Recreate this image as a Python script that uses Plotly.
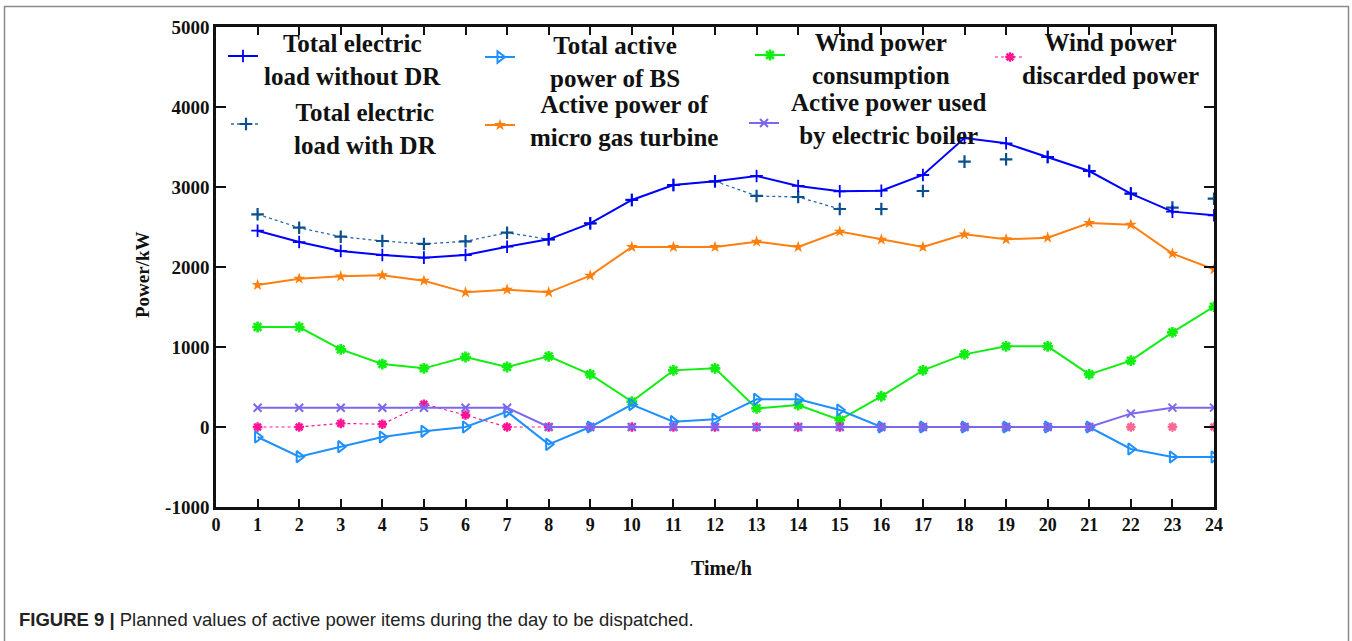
import plotly.graph_objects as go

# ---- data (kW, hourly schedule) ----
hours = list(range(1, 25))

load_without_dr = [2454, 2312, 2200, 2150, 2117, 2150, 2254, 2346, 2546, 2838, 3025, 3071,
                   3138, 3013, 2946, 2954, 3150, 3612, 3546, 3375, 3200, 2917, 2692, 2646]
load_with_dr = [2659, 2491, 2379, 2325, 2288, 2321, 2429, 2346, 2546, 2838, 3025, 3071,
                2888, 2875, 2725, 2725, 2950, 3317, 3346, 3375, 3200, 2917, 2742, 2854]
bs_power = [-125, -371, -246, -125, -54, 0, 192, -217, 0, 280, 67, 96,
            346, 346, 213, 0, 0, 0, 0, 0, 0, -275, -375, -375]
mt_power = [1775, 1854, 1883, 1896, 1829, 1683, 1717, 1683, 1892, 2250, 2250, 2250,
            2317, 2250, 2442, 2342, 2250, 2408, 2346, 2367, 2550, 2529, 2167, 1971]
wind_used = [1250, 1250, 971, 787, 733, 875, 750, 884, 658, 317, 708, 733,
             233, 275, 88, 383, 708, 908, 1008, 1008, 658, 829, 1183, 1504]
wind_cut = [0, 0, 45, 35, 285, 150, 0, 0, 0, 0, 0, 0,
            0, 0, 0, 0, 0, 0, 0, 0, 0, 0, 0, 0]
boiler = [240, 240, 240, 240, 240, 240, 240, 0, 0, 0, 0, 0,
          0, 0, 0, 0, 0, 0, 0, 0, 0, 167, 242, 242]

# hours where the dotted connecting line stops and only markers remain
dr_line_end = 15
cut_line_end = 21

series_labels = {
    "nodr": ["Total electric", "load without DR"],
    "dr": ["Total electric", "load with DR"],
    "bs": ["Total active", "power of BS"],
    "mt": ["Active power of", "micro gas turbine"],
    "wind": ["Wind power", "consumption"],
    "boiler": ["Active power used", "by electric boiler"],
    "cut": ["Wind power", "discarded power"],
}

x_ticks = list(range(0, 25))
y_ticks = [-1000, 0, 1000, 2000, 3000, 4000, 5000]
y_tick_text = ["-1000", "0", "1000", "2000", "3000", "4000", "5000"]

# ---- page geometry (pixels) ----
W, H = 1352, 641
PL, PR, PT, PB = 216, 1214, 27, 507


def px(x):
    return (x - PL) / (PR - PL)


def py(y):
    return (PB - y) / (PB - PT)


SERIF = "Liberation Serif"
SANS = "Liberation Sans"

fig = go.Figure()


def hover(key):
    # swatch-only legend entries; the series name lives in the hover box
    return "%{x} h: %{y} kW<extra>" + " ".join(series_labels[key]) + "</extra>"


cross_dr = dict(symbol="cross-thin", size=9, line=dict(color="#0b4f8c", width=2.2))
star_cut = dict(symbol="asterisk-open", size=8, line=dict(color="#ff1493", width=2.4))

# total load with demand response (dotted, then markers only)
fig.add_trace(go.Scatter(
    x=hours[:dr_line_end], y=load_with_dr[:dr_line_end], mode="lines+markers",
    name="", legend="legend2", hovertemplate=hover("dr"),
    line=dict(color="#2b6aa8", width=1.3, dash="dot"), marker=cross_dr,
))
fig.add_trace(go.Scatter(
    x=hours[dr_line_end:], y=load_with_dr[dr_line_end:], mode="markers",
    name="", legend="legend2", showlegend=False, hovertemplate=hover("dr"),
    marker=cross_dr,
))
# total load without demand response
fig.add_trace(go.Scatter(
    x=hours, y=load_without_dr, mode="lines+markers",
    name="", legend="legend", hovertemplate=hover("nodr"),
    line=dict(color="#0000ff", width=2),
    marker=dict(symbol="cross-thin", size=9, line=dict(color="#0000ff", width=1.8)),
))
# micro gas turbine
fig.add_trace(go.Scatter(
    x=hours, y=mt_power, mode="lines+markers",
    name="", legend="legend4", hovertemplate=hover("mt"),
    line=dict(color="#ff7f0e", width=2),
    marker=dict(symbol="star", size=9, color="#ff7f0e"),
))
# wind power consumed
fig.add_trace(go.Scatter(
    x=hours, y=wind_used, mode="lines+markers",
    name="", legend="legend5", hovertemplate=hover("wind"),
    line=dict(color="#11ee11", width=2),
    marker=dict(symbol="asterisk-open", size=9, line=dict(color="#11ee11", width=2.6)),
))
# wind power discarded (dotted, then markers only)
fig.add_trace(go.Scatter(
    x=hours[:cut_line_end], y=wind_cut[:cut_line_end], mode="lines+markers",
    name="", legend="legend7", hovertemplate=hover("cut"),
    line=dict(color="#ff1493", width=1.2, dash="dot"), marker=star_cut,
))
fig.add_trace(go.Scatter(
    x=hours[cut_line_end:], y=wind_cut[cut_line_end:], mode="markers",
    name="", legend="legend7", showlegend=False, hovertemplate=hover("cut"),
    marker=star_cut,
))
# battery storage
fig.add_trace(go.Scatter(
    x=hours, y=bs_power, mode="lines+markers",
    name="", legend="legend3", hovertemplate=hover("bs"),
    line=dict(color="#1e90ff", width=2),
    marker=dict(symbol="triangle-right-open", size=10, line=dict(color="#1e90ff", width=2)),
))
# electric boiler
fig.add_trace(go.Scatter(
    x=hours, y=boiler, mode="lines+markers",
    name="", legend="legend6", hovertemplate=hover("boiler"),
    line=dict(color="#7b68ee", width=2),
    marker=dict(symbol="x-thin-open", size=8, line=dict(color="#7b68ee", width=2)),
))

# ---- legend swatches: one small legend per series, captions as annotations ----
swatch_centres = {
    "legend": (243, 56),
    "legend2": (246, 124),
    "legend3": (500, 57),
    "legend4": (500, 125),
    "legend5": (770, 55),
    "legend6": (764, 123),
    "legend7": (1010, 57),
}
legend_layout = {}
for lname, (cx, cy) in swatch_centres.items():
    legend_layout[lname] = dict(
        x=px(cx - 20), y=py(cy), xanchor="left", yanchor="middle",
        bgcolor="rgba(0,0,0,0)", borderwidth=0,
        font=dict(size=8, color="#111111"),
        itemwidth=30, tracegroupgap=0,
    )

legend_text = [
    ("nodr", 352, 59.5),
    ("dr", 365, 129),
    ("bs", 615, 61.5),
    ("mt", 624, 120.5),
    ("wind", 881, 58.5),
    ("boiler", 888, 118.5),
    ("cut", 1110, 59),
]
annotations = []
for key, cx, cy in legend_text:
    annotations.append(dict(
        x=px(cx), y=py(cy), xref="paper", yref="paper",
        text="<br>".join(series_labels[key]), showarrow=False,
        xanchor="center", yanchor="middle", align="center",
        font=dict(family=SERIF, size=25, color="#111111", weight="bold"),
    ))

# axis titles
annotations.append(dict(
    x=px(721), y=py(568), xref="paper", yref="paper", text="Time/h",
    showarrow=False, xanchor="center", yanchor="middle",
    font=dict(family=SERIF, size=20, color="#111111", weight="bold"),
))
annotations.append(dict(
    x=px(142), y=py(275), xref="paper", yref="paper", text="Power/kW",
    showarrow=False, xanchor="center", yanchor="middle", textangle=-90,
    font=dict(family=SERIF, size=19, color="#111111", weight="bold"),
))
# caption
annotations.append(dict(
    x=px(17), y=py(619), xref="paper", yref="paper",
    text="<b>FIGURE 9 |</b> Planned values of active power items during the day to be dispatched.",
    showarrow=False, xanchor="left", yanchor="middle",
    font=dict(family=SANS, size=18.5, color="#222222"),
))

# outer figure frame
shapes = [dict(
    type="rect", xref="paper", yref="paper",
    x0=px(4.5), x1=px(1348.5), y0=py(700), y1=py(6.5),
    line=dict(color="#8a8a8a", width=1.5), fillcolor="rgba(0,0,0,0)", layer="below",
)]

axis_common = dict(
    showline=True, linecolor="#111111", linewidth=2.5, mirror="ticks",
    ticks="inside", tickcolor="#111111", tickwidth=1.5,
    showgrid=False, zeroline=False,
)

fig.update_layout(
    width=W, height=H,
    margin=dict(l=PL, r=W - PR, t=PT, b=H - PB, pad=0),
    paper_bgcolor="white", plot_bgcolor="white",
    showlegend=True,
    xaxis=dict(range=[0, 24], tickvals=x_ticks, ticklen=8,
               tickfont=dict(family=SERIF, size=18, color="#111111", weight="bold"),
               **axis_common),
    yaxis=dict(range=[-1000, 5000], tickvals=y_ticks, ticktext=y_tick_text, ticklen=10,
               tickfont=dict(family=SERIF, size=19, color="#111111", weight="bold"),
               **axis_common),
    annotations=annotations,
    shapes=shapes,
    **legend_layout,
)

fig.write_html("out.html")
